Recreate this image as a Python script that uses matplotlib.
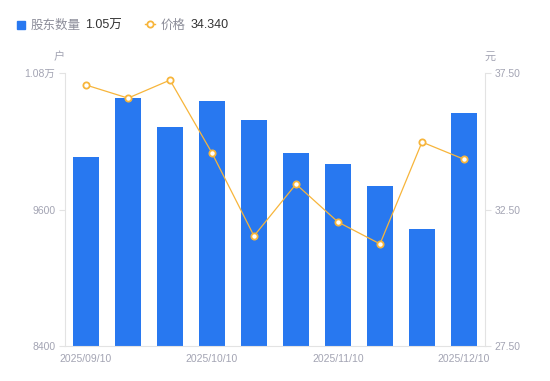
import matplotlib
matplotlib.use("Agg")
import matplotlib.pyplot as plt

plt.rcParams['font.family'] = ['Liberation Sans', 'Noto Sans CJK SC', 'DejaVu Sans']

# data
dates = ['2025/09/10', '2025/09/20', '2025/09/30', '2025/10/10', '2025/10/20',
         '2025/10/31', '2025/11/10', '2025/11/20', '2025/11/30', '2025/12/10']
holders = [10061, 10580, 10325, 10554, 10387, 10097, 10000, 9807, 9429, 10448]
price = [37.06, 36.58, 37.24, 34.57, 31.53, 33.43, 32.04, 31.24, 34.97, 34.34]
left_ticks = [8400, 9600, 10800]
left_labels = ['8400', '9600', '1.08万']
right_ticks = [27.5, 32.5, 37.5]

blue = '#2878F0'
orange = '#F7B53B'
grey = '#A3A4B3'
axis_c = '#E3E3E3'

fig = plt.figure(figsize=(5.5, 3.81), dpi=100)
ax = fig.add_axes([65 / 550, 35 / 381, 420 / 550, 273 / 381])
x = list(range(len(dates)))

ax.bar(x, holders, width=0.6, color=blue, zorder=2)
ax.set_xlim(-0.5, len(dates) - 0.5)
ax.set_ylim(8400, 10800)
ax.set_yticks(left_ticks)
ax.set_yticklabels(left_labels)
ax.set_xticks([0, 3, 6, 9])
ax.set_xticklabels([dates[i] for i in [0, 3, 6, 9]])

ax2 = ax.twinx()
ax2.plot(x, price, color=orange, lw=0.9, marker='o', ms=4.5,
         mfc='white', mec=orange, mew=1.3, zorder=3)
ax2.set_ylim(27.5, 37.5)
ax2.set_yticks(right_ticks)
ax2.set_yticklabels(['%.2f' % v for v in right_ticks])

for a in (ax, ax2):
    for s in a.spines.values():
        s.set_visible(False)
    a.tick_params(colors=axis_c, labelcolor=grey, labelsize=7.5, length=4, width=0.8)
ax.spines['left'].set_visible(True)
ax.spines['left'].set_color(axis_c)
ax.spines['bottom'].set_visible(True)
ax.spines['bottom'].set_color(axis_c)
ax2.spines['right'].set_visible(True)
ax2.spines['right'].set_color(axis_c)
ax.tick_params(axis='x', length=0, pad=5.5)
ax.tick_params(axis='y', pad=3)
ax2.tick_params(axis='y', pad=3)

# axis unit labels
fig.text(59 / 550, 1 - 57 / 381, '户', color=grey, fontsize=8, ha='center', va='center')
fig.text(490 / 550, 1 - 57 / 381, '元', color=grey, fontsize=8, ha='center', va='center')

# legend drawn by hand
ly = 1 - 24 / 381
ty = 1 - 25.5 / 381
fig.patches.append(plt.Rectangle((17 / 550, 1 - 28.5 / 381), 8 / 550, 8 / 381,
                                 transform=fig.transFigure, color=blue, figure=fig))
fig.text(31 / 550, ty, '股东数量', color='#8C8D99', fontsize=9, va='center')
fig.text(85 / 550, ty, '1.05万', color='#333333', fontsize=9, va='center')
fig.lines.append(plt.Line2D([145 / 550, 155 / 550], [ly, ly], transform=fig.transFigure,
                            color=orange, lw=1, figure=fig))
fig.lines.append(plt.Line2D([150 / 550], [ly], transform=fig.transFigure, color=orange,
                            marker='o', ms=4.5, mfc='white', mec=orange, mew=1.3,
                            figure=fig))
fig.text(161 / 550, ty, '价格', color='#8C8D99', fontsize=9, va='center')
fig.text(191 / 550, ty, '34.340', color='#333333', fontsize=9, va='center')

fig.savefig('out.png', dpi=100)
